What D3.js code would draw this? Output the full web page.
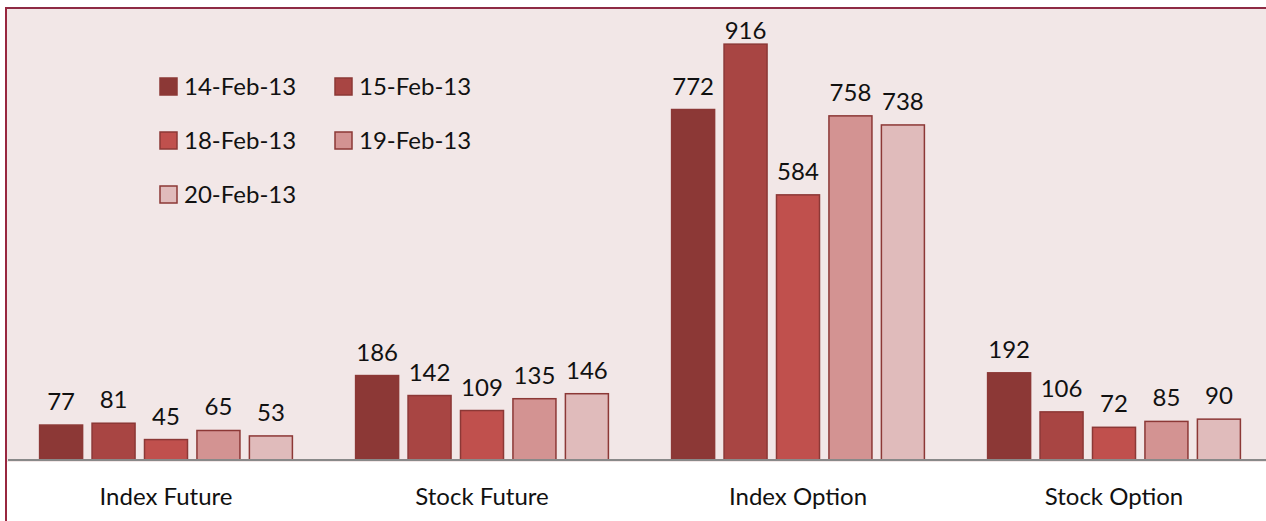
<!DOCTYPE html>
<html>
<head>
<meta charset="utf-8">
<script src="https://cdn.jsdelivr.net/npm/d3@7"></script>
<style>
  body { margin: 0; background: #fff; }
  svg text { font-family: Lato, "Noto Sans", sans-serif; fill: #111; }
</style>
</head>
<body>
<svg id="chart"></svg>
<script>
const categories = ["Index Future", "Stock Future", "Index Option", "Stock Option"]
const dates = ["14-Feb-13", "15-Feb-13", "18-Feb-13", "19-Feb-13", "20-Feb-13"]
const values = {
    "14-Feb-13": [77, 186, 772, 192],
    "15-Feb-13": [81, 142, 916, 106],
    "18-Feb-13": [45, 109, 584, 72],
    "19-Feb-13": [65, 135, 758, 85],
    "20-Feb-13": [53, 146, 738, 90]
}
const colors = ["#8c3836", "#a84543", "#c0504d", "#d39392", "#e0bbbb"]

function drawChart() {
const svgWidth = 1266
const svgHeight = 521
const plot = ({left: 7, top: 8, right: 1272, bottom: 460})

const svg = d3.select("#chart")
    .attr("width", svgWidth)
    .attr("height", svgHeight)

// pink plot background + border on left/top
svg.append("rect")
    .attr("x", plot.left)
    .attr("y", plot.top)
    .attr("width", svgWidth - plot.left)
    .attr("height", plot.bottom - plot.top + 2)
    .attr("fill", "#f2e7e7")

svg.append("line")
    .attr("x1", 5).attr("x2", svgWidth)
    .attr("y1", 8).attr("y2", 8)
    .attr("stroke", "#8e2b44").attr("stroke-width", 2)
svg.append("line")
    .attr("x1", 6).attr("x2", 6)
    .attr("y1", 7).attr("y2", svgHeight)
    .attr("stroke", "#98273f").attr("stroke-width", 2)

const x0 = d3.scaleBand()
    .domain(categories)
    .range([8, 1272])
    .paddingInner(0.2)
    .paddingOuter(0.1)

const x1 = d3.scaleBand()
    .domain(dates)
    .range([0, x0.bandwidth()])
    .paddingInner(0.18)

const y = d3.scaleLinear()
    .domain([0, 1000])
    .range([plot.bottom, 6])

const rows = []
categories.forEach((c, i) => {
    dates.forEach(d => rows.push({cat: c, date: d, value: values[d][i]}))
})

const color = d3.scaleOrdinal().domain(dates).range(colors)

svg.append("g")
    .selectAll("rect")
    .data(rows)
    .join("rect")
    .attr("x", d => x0(d.cat) + x1(d.date))
    .attr("y", d => y(d.value))
    .attr("width", x1.bandwidth())
    .attr("height", d => y(0) - y(d.value))
    .attr("fill", d => color(d.date))
    .attr("stroke", "#8c3836")
    .attr("stroke-width", 1.5)

// value labels
svg.append("g")
    .selectAll("text")
    .data(rows)
    .join("text")
    .attr("x", d => x0(d.cat) + x1(d.date) + x1.bandwidth() / 2)
    .attr("y", d => Math.max(y(d.value) - 15, 39))
    .attr("text-anchor", "middle")
    .attr("font-size", "24px")
    .text(d => d.value)

// x axis
const xAxis = svg.append("g")
    .attr("transform", `translate(0, ${plot.bottom})`)
    .call(d3.axisBottom(x0).tickSize(0).tickPadding(28))
xAxis.select(".domain")
    .attr("d", `M8,0H${svgWidth}`)
    .attr("stroke", "#898989")
    .attr("stroke-width", 2)
xAxis.selectAll("text")
    .attr("font-size", "24px")
    .attr("font-family", "Lato, 'Noto Sans', sans-serif")
    .attr("fill", "#111")

// legend
const legend = svg.append("g")
    .selectAll("g")
    .data(dates)
    .join("g")
    .attr("transform", (d, i) => `translate(${160 + (i % 2) * 175}, ${78 + Math.floor(i / 2) * 54})`)
legend.append("rect")
    .attr("width", 17).attr("height", 17)
    .attr("fill", d => color(d))
    .attr("stroke", "#8c3836")
    .attr("stroke-width", 1.5)
legend.append("text")
    .attr("x", 24)
    .attr("y", 17)
    .attr("font-size", "24px")
    .text(d => d)
}

drawChart()
</script>
</body>
</html>
